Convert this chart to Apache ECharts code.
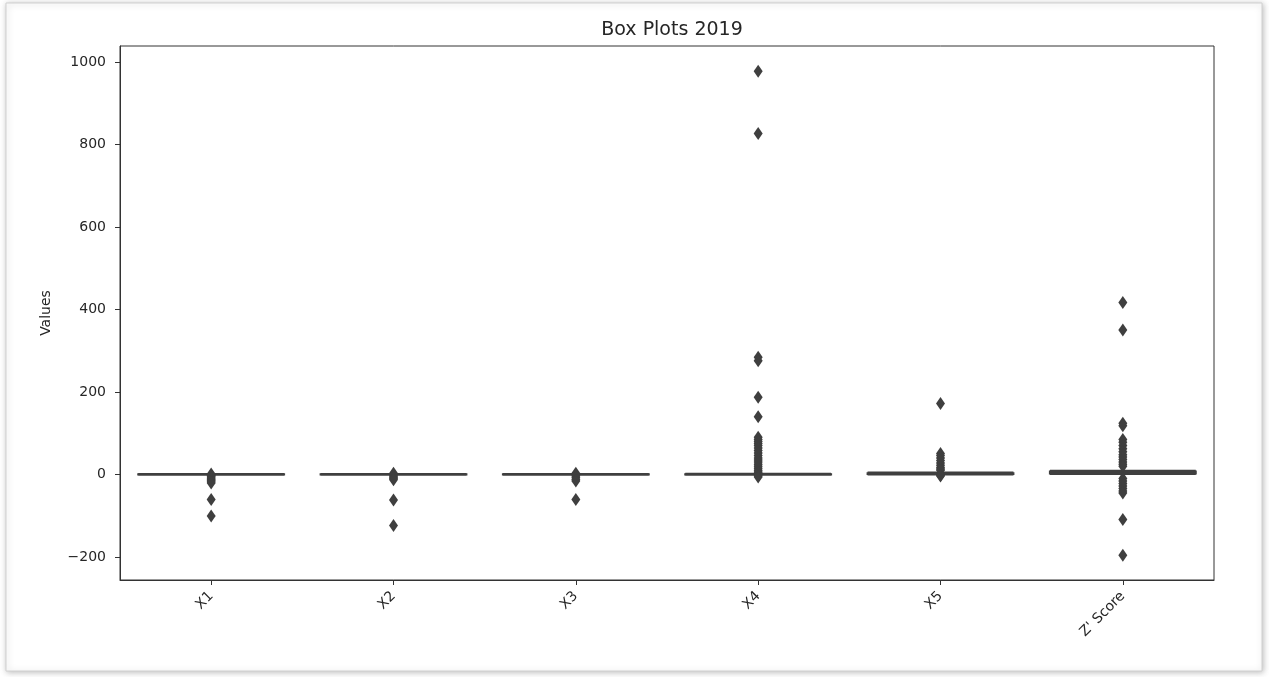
<!DOCTYPE html>
<html>
<head>
<meta charset="utf-8">
<script src="https://cdn.jsdelivr.net/npm/echarts@6/dist/echarts.min.js"></script>
<style>
html,body{margin:0;padding:0;background:#fff;}
#chart{width:1269px;height:677px;}
</style>
</head>
<body>
<div id="chart"></div>
<script>
// Categories
const categories = ['X1', 'X2', 'X3', 'X4', 'X5', "Z' Score"];
// Box statistics per category: [lower whisker, Q1, median, Q3, upper whisker]
const boxX1 = [-1, -0.3, 0, 0.3, 1];
const boxX2 = [-1, -0.3, 0, 0.3, 1];
const boxX3 = [-1, -0.3, 0, 0.3, 1];
const boxX4 = [-1, -0.2, 0, 0.5, 1.5];
const boxX5 = [0, 1, 2, 3, 5];
const boxZ  = [1, 2, 4, 7, 9];
// Outliers per category
const outX1 = [1, -2, -4, -6, -9, -12, -15, -18, -21, -61, -101];
const outX2 = [3, -1, -4, -7, -10, -13, -62, -124];
const outX3 = [3, -1, -4, -8, -12, -16, -61];
const outX4 = [978, 827, 284, 276, 187, 140, 90, 85, 80, 75, 70, 64, 58, 52, 46, 40, 35, 30, 25, 20, 15, 10, 6, 3, -3, -6];
const outX5 = [172, 51, 46, 40, 34, 28, 22, 17, 13, 10, -2, -4];
const outZ  = [417, 350, 124, 118, 85, 78, 70, 62, 55, 48, 42, 36, 30, 25, 20, -10, -16, -22, -28, -34, -40, -45, -109, -196];
// Y tick labels
const yTicks = [-200, 0, 200, 400, 600, 800, 1000];

const boxes = [boxX1, boxX2, boxX3, boxX4, boxX5, boxZ];
const outliers = [outX1, outX2, outX3, outX4, outX5, outZ];
const scatterData = [];
outliers.forEach((arr, i) => arr.forEach(v => scatterData.push([i, v])));

const ink = '#3f3f3f';
const txt = '#262626';
const font = 'DejaVu Sans';

const chart = echarts.init(document.getElementById('chart'), null, {renderer: 'canvas'});
chart.setOption({
  backgroundColor: '#ffffff',
  animation: false,
  graphic: [{
    type: 'rect',
    shape: {x: 6, y: 3, width: 1256, height: 668},
    style: {fill: '#ffffff', stroke: '#d0d0d0', lineWidth: 1, shadowBlur: 6, shadowColor: 'rgba(0,0,0,0.25)', shadowOffsetX: 1, shadowOffsetY: 1},
    z: -10
  }],
  title: {
    text: 'Box Plots 2019',
    left: 667,
    textAlign: 'center',
    top: 16,
    textStyle: {fontFamily: font, fontSize: 19, fontWeight: 'normal', color: txt}
  },
  grid: {
    left: 120, right: 55, top: 46, bottom: 97,
    show: true, borderColor: '#333333', borderWidth: 1, backgroundColor: 'transparent'
  },
  xAxis: {
    type: 'category',
    data: categories,
    boundaryGap: true,
    axisLine: {show: true, onZero: false, lineStyle: {color: '#333333', width: 1}},
    axisTick: {show: true, alignWithLabel: true, length: 5, lineStyle: {color: '#333333'}},
    axisLabel: {rotate: 45, margin: 14, fontFamily: font, fontSize: 14, color: txt, interval: 0},
    splitLine: {show: false}
  },
  yAxis: {
    type: 'value',
    min: -256,
    max: 1039,
    name: 'Values',
    nameLocation: 'middle',
    nameGap: 67,
    nameRotate: 90,
    nameTextStyle: {fontFamily: font, fontSize: 14, color: txt},
    axisLine: {show: true, onZero: false, lineStyle: {color: '#333333', width: 1}},
    axisTick: {show: true, length: 5, customValues: yTicks, lineStyle: {color: '#333333'}},
    axisLabel: {
      customValues: yTicks,
      margin: 14,
      fontFamily: font, fontSize: 14, color: txt,
      formatter: v => (v < 0 ? '\u2212' + Math.abs(v) : String(v))
    },
    splitLine: {show: false}
  },
  series: [
    {
      type: 'boxplot',
      data: boxes,
      boxWidth: ['80%', '80%'],
      itemStyle: {color: ink, borderColor: ink, borderWidth: 2},
      emphasis: {disabled: true}
    },
    {
      type: 'scatter',
      data: scatterData,
      symbol: 'diamond',
      symbolSize: [9, 13],
      itemStyle: {color: ink, opacity: 1},
      z: 3
    }
  ]
});
</script>
</body>
</html>
